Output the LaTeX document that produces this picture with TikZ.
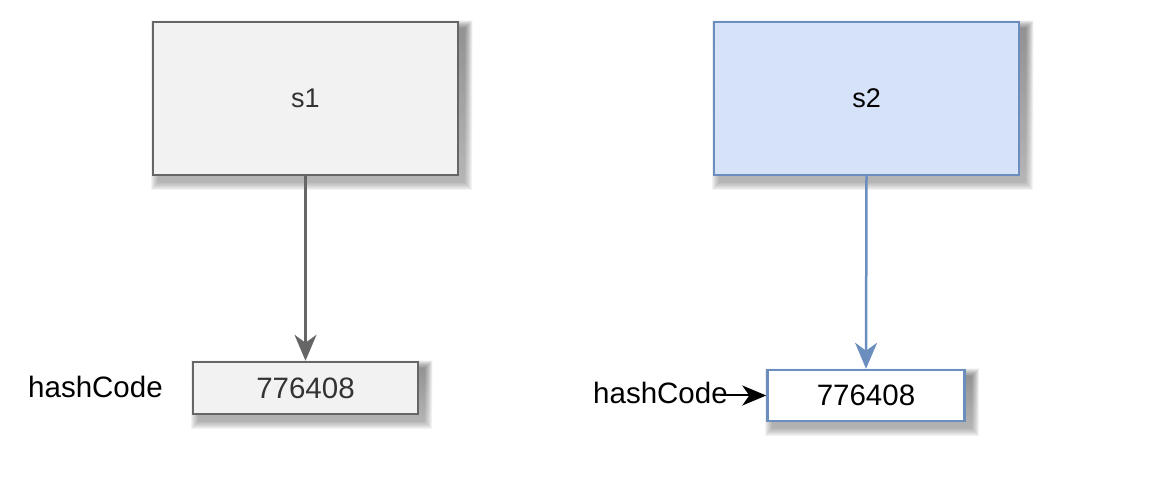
\documentclass[tikz,border=0pt]{standalone}
\usepackage{fontspec}
\setmainfont{Liberation Sans}
\usetikzlibrary{arrows.meta,backgrounds}

\definecolor{greyline}{HTML}{666666}
\definecolor{greyfill}{HTML}{F2F2F2}
\definecolor{greytext}{HTML}{333333}
\definecolor{blueline}{HTML}{6C8EBF}
\definecolor{bluefill}{HTML}{D6E2F7}
\definecolor{shade}{HTML}{5A64B0}

\tikzset{
  obj/.style={draw, line width=2.5pt, inner sep=0pt},
  greybox/.style={obj, draw=greyline, fill=greyfill, text=greytext},
  bluebox/.style={obj, draw=blueline, fill=bluefill},
  whitebox/.style={obj, draw=blueline, fill=white},
  big/.style={minimum width=305pt, minimum height=153pt,
    font=\fontsize{27}{30}\selectfont},
  small/.style={font=\fontsize{29.5}{34}\selectfont},
  lbl/.style={inner sep=0pt, anchor=base west, font=\fontsize{29.5}{34}\selectfont},
  link/.style={line width=2.5pt, -{Stealth[length=26pt, width=22pt, inset=8pt]}}
}

% soft drop shadow behind a named box (y axis points down)
\newcommand{\softshadow}[1]{
 \begin{scope}[on background layer]
  \foreach \r in {1,...,8}
   \fill[shade, opacity=.05]
     ([shift={({6-(8-\r)},{7-(8-\r)})}]#1.north west)
     rectangle ([shift={({6+(8-\r)},{7+(8-\r)})}]#1.south east);
 \end{scope}
}

\begin{document}
\begin{tikzpicture}[x=1pt, y=-1pt]
\useasboundingbox (0,0) rectangle (1176,486);

% left object
\node[greybox, big] (s1) at (305.5,98.5) {s1};
\node[greybox, small, minimum width=225pt, minimum height=52pt] (v1) at (305.5,388) {776408};
\node[lbl] (hc1) at (28,398) {hashCode};
\draw[link, greyline] (s1.south) -- (v1.north);

% right object
\node[bluebox, big] (s2) at (866.5,98.5) {s2};
\node[whitebox, small, minimum width=197pt, minimum height=51pt] (v2) at (866,395.5) {776408};
\node[lbl] (hc2) at (593,403) {hashCode};
\coordinate (hcend) at ([xshift=-8pt]hc2.east);
\draw[link, blueline] (s2.south) -- (v2.north);
\draw[line width=2pt, -{Stealth[length=24pt, width=20pt, inset=7pt]}] (hcend |- v2.west) -- (v2.west);

\softshadow{s1} \softshadow{v1}
\softshadow{s2} \softshadow{v2}
\end{tikzpicture}
\end{document}
